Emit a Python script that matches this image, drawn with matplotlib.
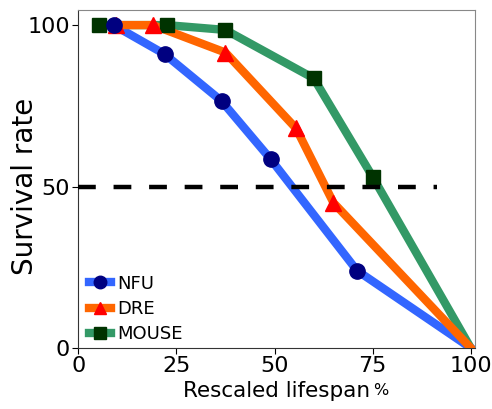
import matplotlib

matplotlib.use('Agg')
import matplotlib.pyplot as plt

# survival curves (x = rescaled lifespan %, y = survival %)
nfu_x = [9, 22, 36.5, 49, 71, 100]
nfu_y = [100, 91, 76.5, 58.5, 24, 0]

dre_x = [9.5, 19, 37.5, 55.5, 65, 100]
dre_y = [100, 100, 91.5, 68, 45, 0]

mouse_x = [5.3, 22.5, 37.5, 60, 75, 100]
mouse_y = [100, 100, 98.5, 83.5, 53, 0]

half_x = [0, 91.5]
half_y = [50, 50]

x_ticks = [0, 25, 50, 75, 100]
y_ticks = [0, 50, 100]

fig, ax = plt.subplots(figsize=(4.92, 4.09), dpi=100)
fig.subplots_adjust(left=0.159, right=0.965, top=0.975, bottom=0.149)

lw = 6
ms = 11

# lines first, markers on top
ax.plot(mouse_x, mouse_y, color='#339966', lw=lw, zorder=2)
ax.plot(nfu_x, nfu_y, color='#3366ff', lw=lw, zorder=3)
ax.plot(dre_x, dre_y, color='#ff6600', lw=lw, zorder=4)

ax.plot(mouse_x[:-1], mouse_y[:-1], 's', color='#003300', ms=ms - 1, zorder=5)
ax.plot(dre_x[:-1], dre_y[:-1], '^', color='#ff0000', ms=ms, zorder=6)
ax.plot(nfu_x[:-1], nfu_y[:-1], 'o', color='#000080', ms=ms, zorder=7)

ax.plot(half_x, half_y, color='black', lw=3.2, dashes=(4, 4), zorder=8)

# legend handles: thick line with the marker
h_nfu, = ax.plot([], [], color='#3366ff', lw=lw, marker='o', mfc='#000080', mec='#000080', ms=ms - 2)
h_dre, = ax.plot([], [], color='#ff6600', lw=lw, marker='^', mfc='#ff0000', mec='#ff0000', ms=ms - 2)
h_mouse, = ax.plot([], [], color='#339966', lw=lw, marker='s', mfc='#003300', mec='#003300', ms=ms - 3)
ax.legend([h_nfu, h_dre, h_mouse], ['NFU', 'DRE', 'MOUSE'], loc='lower left', frameon=False,
          fontsize=13, handlelength=1.2, handletextpad=0.35, labelspacing=0.4,
          borderaxespad=0.2, borderpad=0.3, bbox_to_anchor=(0.005, -0.012))

ax.set_xlim(0, 101)
ax.set_ylim(0, 104.6)
ax.set_xticks(x_ticks)
ax.set_yticks(y_ticks)
ax.tick_params(labelsize=16, length=4, pad=2)

ax.spines['top'].set_color('#888888')
ax.spines['right'].set_color('#888888')
ax.spines['left'].set_color('#333333')
ax.spines['bottom'].set_color('#333333')

ax.set_ylabel('Survival rate', fontsize=20)
ax.yaxis.set_label_coords(-0.1, 0.48)
ax.set_xlabel('Rescaled lifespan', fontsize=15.5, labelpad=3)
ax.annotate('%', xy=(1, 0), xycoords=ax.xaxis.label, xytext=(2, 2), textcoords='offset points',
            fontsize=11.5, ha='left', va='bottom')

plt.savefig('out.png', dpi=100)
